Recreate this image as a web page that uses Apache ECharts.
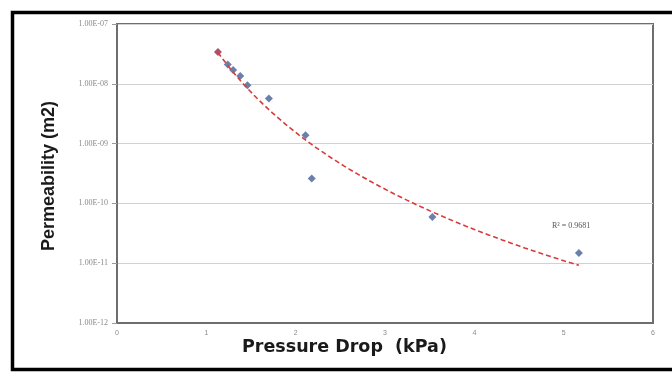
<!DOCTYPE html>
<html>
<head>
<meta charset="utf-8">
<script src="https://cdn.jsdelivr.net/npm/echarts@6/dist/echarts.min.js"></script>
<style>
  html, body { margin: 0; padding: 0; background: #ffffff; }
  #chart { width: 672px; height: 372px; }
</style>
</head>
<body>
<div id="chart"></div>
<script>
// Measured samples: pressure drop (kPa) and permeability (m2)
const pressureDrop = [1.13, 1.24, 1.30, 1.38, 1.46, 1.70, 2.11, 2.18, 3.53, 5.17];
const permeability = [3.4e-8, 2.1e-8, 1.7e-8, 1.35e-8, 9.5e-9, 5.7e-9, 1.38e-9, 2.6e-10, 5.9e-11, 1.48e-11];

// Axis tick labels
const xTickLabels = ['0', '1', '2', '3', '4', '5', '6'];
const yTickLabels = ['1.00E-12', '1.00E-11', '1.00E-10', '1.00E-09', '1.00E-08', '1.00E-07'];

// Trendline annotation
const rSquaredText = 'R\u00B2 = 0.9681';

// Least-squares power-law fit (y = a * x^b) in log-log space
function powerFit(xs, ys) {
  const u = xs.map(Math.log10), v = ys.map(Math.log10);
  const n = u.length;
  const mu = u.reduce((s, t) => s + t, 0) / n;
  const mv = v.reduce((s, t) => s + t, 0) / n;
  let sxy = 0, sxx = 0;
  for (let i = 0; i < n; i++) { sxy += (u[i] - mu) * (v[i] - mv); sxx += (u[i] - mu) * (u[i] - mu); }
  const b = sxy / sxx;
  const logA = mv - b * mu;
  return x => Math.pow(10, logA + b * Math.log10(x));
}

const fit = powerFit(pressureDrop, permeability);
const xMin = Math.min(...pressureDrop), xMax = Math.max(...pressureDrop);
const trendData = [];
for (let i = 0; i <= 80; i++) {
  const x = xMin + (xMax - xMin) * i / 80;
  trendData.push([x, fit(x)]);
}

const points = pressureDrop.map((x, i) => [x, permeability[i]]);

const chart = echarts.init(document.getElementById('chart'), null, { renderer: 'canvas' });

chart.setOption({
  animation: false,
  backgroundColor: '#ffffff',
  grid: {
    left: 117, top: 24, width: 536, height: 299,
    show: true, borderColor: '#6e6e6e', borderWidth: 2, backgroundColor: 'transparent'
  },
  xAxis: {
    type: 'value', min: 0, max: 6, interval: 1,
    axisLine: { show: true, lineStyle: { color: '#6e6e6e', width: 2 } },
    axisTick: { show: false },
    splitLine: { show: false },
    axisLabel: {
      margin: 7, color: '#8a8a8a', fontSize: 7, fontFamily: 'Liberation Sans',
      formatter: v => xTickLabels[Math.round(v)] ?? ''
    }
  },
  yAxis: {
    type: 'log', logBase: 10, min: 1e-12, max: 1e-7,
    axisLine: { show: true, lineStyle: { color: '#6e6e6e', width: 2 } },
    axisTick: { show: true, length: 5, inside: false, lineStyle: { color: '#9a9a9a', width: 1 } },
    splitLine: { show: true, lineStyle: { color: '#d2d2d2', width: 1 } },
    minorTick: { show: false },
    axisLabel: {
      margin: 9, color: '#8a8a8a', fontSize: 8, fontFamily: 'Liberation Serif',
      formatter: v => yTickLabels[Math.round(Math.log10(v)) + 12] ?? ''
    }
  },
  series: [
    {
      name: 'Permeability',
      type: 'scatter',
      data: points,
      symbol: 'diamond',
      symbolSize: 8,
      itemStyle: {
        color: p => p.dataIndex === 0 ? '#a2405e' : '#5a72a2',
        opacity: 0.9
      },
      z: 3
    },
    {
      name: 'Power trend',
      type: 'line',
      data: trendData,
      showSymbol: false,
      symbol: 'none',
      smooth: false,
      lineStyle: { color: '#d83a3a', width: 1.6, type: [5, 3] },
      z: 4
    }
  ],
  graphic: [
    {
      type: 'rect',
      shape: { x: 12.5, y: 12.5, width: 680, height: 357 },
      style: { fill: 'none', stroke: '#000000', lineWidth: 3.5 },
      silent: true
    },
    {
      type: 'text',
      left: 242, top: 338,
      style: {
        text: 'Pressure Drop  (kPa)',
        font: 'bold 17.5px "DejaVu Sans"',
        fill: '#1a1a1a'
      }
    },
    {
      type: 'text',
      x: 40, y: 251,
      rotation: Math.PI / 2,
      style: {
        text: 'Permeability (m2)',
        font: 'bold 18px "Liberation Sans"',
        fill: '#1a1a1a'
      }
    },
    {
      type: 'text',
      left: 552, top: 222,
      style: {
        text: rSquaredText,
        font: '8px "Liberation Serif"',
        fill: '#555555'
      }
    }
  ]
});
</script>
</body>
</html>
